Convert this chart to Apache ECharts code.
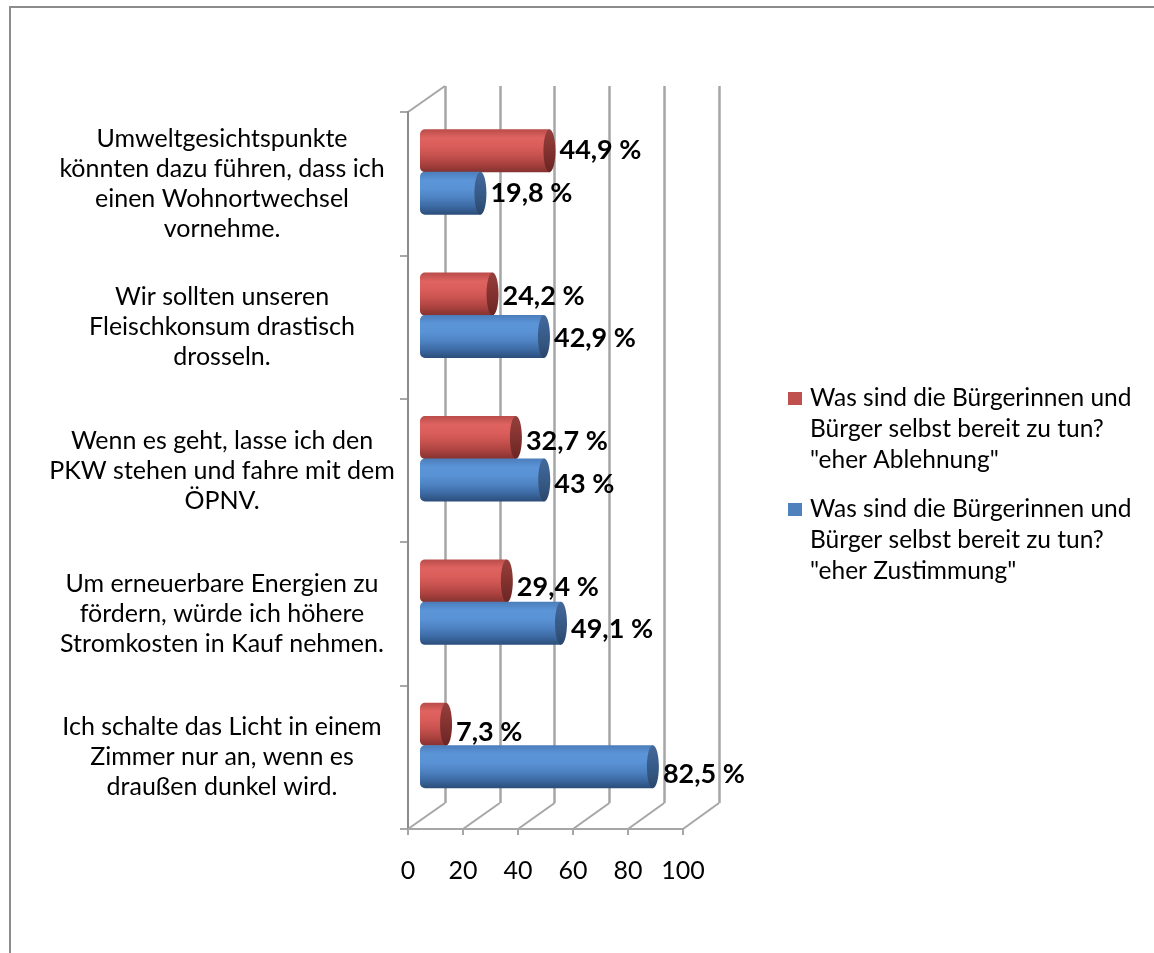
<!DOCTYPE html>
<html>
<head>
<meta charset="utf-8">
<script src="https://cdn.jsdelivr.net/npm/echarts@6/dist/echarts.min.js"></script>
<style>
html,body{margin:0;padding:0;background:#fff;}
#chart{width:1154px;height:953px;}
</style>
</head>
<body>
<div id="chart"></div>
<script>
// ---- data ----
const categories = [
  'Umweltgesichtspunkte\nkönnten dazu führen, dass ich\neinen Wohnortwechsel\nvornehme.',
  'Wir sollten unseren\nFleischkonsum drastisch\ndrosseln.',
  'Wenn es geht, lasse ich den\nPKW stehen und fahre mit dem\nÖPNV.',
  'Um erneuerbare Energien zu\nfördern, würde ich höhere\nStromkosten in Kauf nehmen.',
  'Ich schalte das Licht in einem\nZimmer nur an, wenn es\ndraußen dunkel wird.'
];
const seriesNames = [
  'Was sind die Bürgerinnen und Bürger selbst bereit zu tun? "eher Ablehnung"',
  'Was sind die Bürgerinnen und Bürger selbst bereit zu tun? "eher Zustimmung"'
];
const ablehnung = [44.9, 24.2, 32.7, 29.4, 7.3];
const zustimmung = [19.8, 42.9, 43, 49.1, 82.5];
const xTicks = [0, 20, 40, 60, 80, 100];

// ---- layout / style ----
const FONT = 'Lato, "Open Sans", sans-serif';
const FRONT = {left: 408, width: 275, top: 112, bottom: 953 - 829};
const BACK = {left: 445, width: 274, top: 86, bottom: 953 - 803};
const BARS = {left: 420, width: 275, top: 112, bottom: 953 - 829};
const GRID_COLOR = '#a6a6a6';

function fmt(v) { return String(v).replace('.', ',') + ' %'; }

function grad(stops) {
  return {type: 'linear', x: 0, y: 0, x2: 0, y2: 1,
    colorStops: stops.map((c, i) => ({offset: i / (stops.length - 1), color: c}))};
}
const redBody = grad(['#b94c49', '#df6360', '#da5d5a', '#c7524f', '#ab423f', '#843230']);
const redCap = grad(['#94403d', '#8a3633', '#7a2e2c', '#6a2523']);
const blueBody = grad(['#4c7dba', '#5b95d8', '#5992d5', '#4e83c3', '#3d6ba5', '#2b4d79']);
const blueCap = grad(['#44699a', '#3b6090', '#34567f', '#2a466a']);

function makeRender(body, cap, offFactor) {
  return function (params, api) {
    const v = api.value(0), idx = api.value(1);
    const base = api.coord([0, idx]);
    const end = api.coord([v, idx]);
    const band = api.size([0, 1])[1];
    const h = band * 0.30;
    const cy = base[1] + band * offFactor;
    const rx = 6;
    const xc = end[0] + rx;
    return {
      type: 'group',
      children: [
        {type: 'rect', shape: {x: base[0], y: cy - h / 2, width: xc - base[0], height: h, r: [5, 0, 0, 5]},
          style: {fill: body}},
        {type: 'ellipse', shape: {cx: xc, cy: cy, rx: rx, ry: h / 2}, style: {fill: cap}},
        {type: 'text', style: {text: fmt(v), x: xc + rx + 4, y: cy + 2 * idx,
          verticalAlign: 'middle', align: 'left', font: 'bold 27px ' + FONT, fill: '#000'}}
      ]
    };
  };
}

const legendRich = {
  sq0: {width: 14, height: 13, backgroundColor: '#c0504d'},
  sq1: {width: 14, height: 13, backgroundColor: '#4f81bd'},
  t: {fontSize: 24.5, fontFamily: FONT, color: '#000', padding: [0, 0, 0, 8], lineHeight: 31},
  u: {fontSize: 24.5, fontFamily: FONT, color: '#000', padding: [0, 0, 0, 22], lineHeight: 31}
};

const chart = echarts.init(document.getElementById('chart'), null, {renderer: 'canvas'});
chart.setOption({
  backgroundColor: '#fff',
  animation: false,
  legend: {
    orient: 'vertical', left: 778, top: 378, itemGap: 18,
    icon: 'none', itemWidth: 0, itemHeight: 0,
    data: seriesNames,
    formatter: function (name) {
      const i = seriesNames.indexOf(name);
      const parts = name.match(/^(Was sind die Bürgerinnen und) (Bürger selbst bereit zu tun\?) (.*)$/);
      return '{sq' + i + '|}{t|' + parts[1] + '}\n{u|' + parts[2] + '}\n{u|' + parts[3] + '}';
    },
    textStyle: {rich: legendRich, fontSize: 24.5, fontFamily: FONT, lineHeight: 31}
  },
  grid: [
    {left: BACK.left, width: BACK.width, top: BACK.top, bottom: BACK.bottom},
    {left: FRONT.left, width: FRONT.width, top: FRONT.top, bottom: FRONT.bottom},
    {left: BARS.left, width: BARS.width, top: BARS.top, bottom: BARS.bottom}
  ],
  xAxis: [
    {gridIndex: 0, type: 'value', min: 0, max: 100, interval: 20,
      axisLine: {show: false}, axisTick: {show: false}, axisLabel: {show: false},
      splitLine: {show: true, lineStyle: {color: GRID_COLOR, width: 2.5}}},
    {gridIndex: 1, type: 'value', min: 0, max: 100, interval: 20,
      axisLine: {show: true, lineStyle: {color: GRID_COLOR, width: 2}},
      axisTick: {show: true, length: 6, lineStyle: {color: GRID_COLOR, width: 2}},
      axisLabel: {show: true, fontSize: 25, fontFamily: FONT, color: '#000', margin: 29},
      splitLine: {show: false}},
    {gridIndex: 2, type: 'value', min: 0, max: 100, interval: 20, show: false}
  ],
  yAxis: [
    {gridIndex: 0, type: 'category', data: categories, inverse: true, show: false},
    {gridIndex: 1, type: 'category', data: categories, inverse: true,
      axisLine: {show: true, lineStyle: {color: '#8c8c8c', width: 2}},
      axisTick: {show: true, length: 8, lineStyle: {color: '#8c8c8c', width: 1.5}},
      axisLabel: {show: true, fontSize: 25, lineHeight: 30, fontFamily: FONT, color: '#000',
        align: 'center', margin: 186},
      splitLine: {show: false}},
    {gridIndex: 2, type: 'category', data: categories, inverse: true, show: false}
  ],
  series: [
    {name: seriesNames[0], type: 'custom', xAxisIndex: 2, yAxisIndex: 2, color: '#c0504d',
      renderItem: makeRender(redBody, redCap, -0.23),
      data: ablehnung.map((v, i) => [v, i])},
    {name: seriesNames[1], type: 'custom', xAxisIndex: 2, yAxisIndex: 2, color: '#4f81bd',
      renderItem: makeRender(blueBody, blueCap, 0.066),
      data: zustimmung.map((v, i) => [v, i])}
  ]
});

// 3D frame decoration: floor diagonals and left wall top edge, derived from axes
const graphics = [];
const frontY = 953 - FRONT.bottom, backY = 953 - BACK.bottom;
xTicks.forEach(t => {
  const xf = chart.convertToPixel({xAxisIndex: 1}, t);
  const xb = chart.convertToPixel({xAxisIndex: 0}, t);
  graphics.push({type: 'line', shape: {x1: xf, y1: frontY, x2: xb, y2: backY},
    style: {stroke: GRID_COLOR, lineWidth: 2}, silent: true});
});
const xf0 = chart.convertToPixel({xAxisIndex: 1}, 0);
const xb0 = chart.convertToPixel({xAxisIndex: 0}, 0);
graphics.push({type: 'line', shape: {x1: xf0, y1: FRONT.top, x2: xb0, y2: BACK.top},
  style: {stroke: GRID_COLOR, lineWidth: 2}, silent: true});
// outer chart border
graphics.push({type: 'rect', shape: {x: 10, y: 7, width: 1300, height: 1100},
  style: {fill: null, stroke: '#8c8c8c', lineWidth: 2}, silent: true, z: -1});
chart.setOption({graphic: graphics});
</script>
</body>
</html>
